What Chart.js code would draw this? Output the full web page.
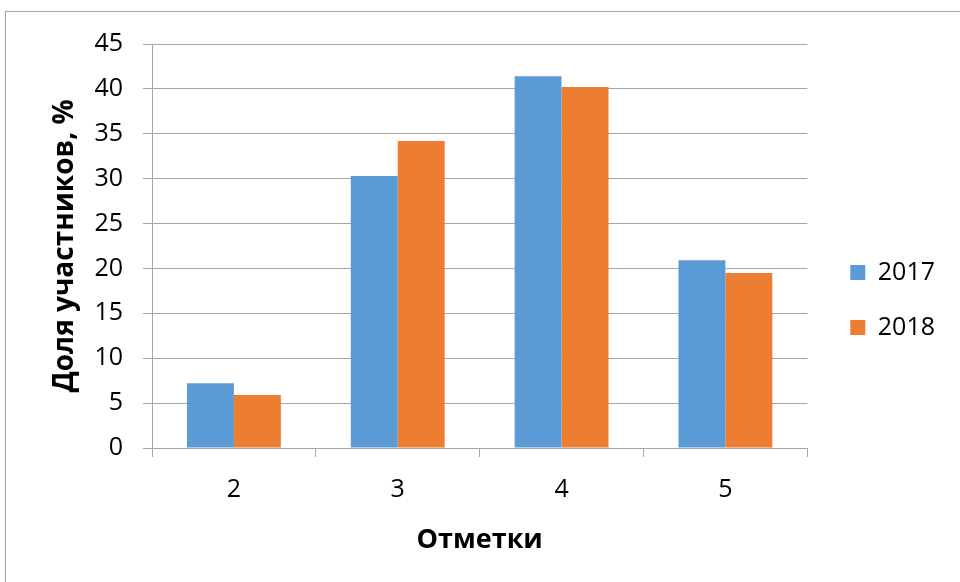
<!DOCTYPE html>
<html>
<head>
<meta charset="utf-8">
<script src="https://cdn.jsdelivr.net/npm/chart.js@4/dist/chart.umd.min.js"></script>
<style>
  html, body { margin: 0; padding: 0; background: #fff; }
  #wrap { position: relative; width: 960px; height: 582px; }
  #frame { position: absolute; left: 5px; top: 11px; right: -2px; bottom: -2px;
           border-left: 1px solid #a6a6a6; border-top: 1px solid #a6a6a6; pointer-events: none; }
</style>
</head>
<body>
<div id="wrap">
  <canvas id="chart" width="960" height="582"></canvas>
  <div id="frame"></div>
</div>
<script>
const grades = ["2", "3", "4", "5"];
const share2017 = [7.2, 30.3, 41.4, 20.9];
const share2018 = [5.9, 34.2, 40.2, 19.5];
const yTicks = [0, 5, 10, 15, 20, 25, 30, 35, 40, 45];

const gridGray = "#a6a6a6";
const fontFamily = "'Open Sans', 'Noto Sans', sans-serif";

// nudge the legend into place after layout (Excel leaves a wider gap)
const legendNudge = {
  id: "legendNudge",
  afterLayout(chart) {
    const lg = chart.legend;
    if (!lg) return;
    lg.left += 13; lg.right += 13;
    lg.top -= 13; lg.bottom -= 13;
  }
};

const ctx = document.getElementById("chart").getContext("2d");

new Chart(ctx, {
  type: "bar",
  data: {
    labels: grades,
    datasets: [{
      label: "2017",
      data: share2017,
      backgroundColor: "#5b9bd5",
      borderWidth: 0
    }, {
      label: "2018",
      data: share2018,
      backgroundColor: "#ed7d31",
      borderWidth: 0
    }]
  },
  plugins: [legendNudge],
  options: {
    responsive: false,
    animation: false,
    categoryPercentage: 0.573,
    barPercentage: 1,
    layout: {
      padding: { top: 44, left: 0, right: 28, bottom: 0 }
    },
    plugins: {
      legend: {
        display: true,
        position: "right",
        labels: {
          color: "#000",
          font: { family: fontFamily, size: 25 },
          boxWidth: 15,
          boxHeight: 15,
          padding: 30
        }
      },
      tooltip: { enabled: false }
    },
    scales: {
      x: {
        grid: {
          offset: true,
          drawOnChartArea: false,
          drawTicks: true,
          tickLength: 9,
          color: gridGray
        },
        border: { color: gridGray },
        ticks: {
          color: "#000",
          font: { family: fontFamily, size: 25 },
          padding: 18
        },
        title: {
          display: true,
          text: "Отметки",
          color: "#000",
          font: { family: fontFamily, size: 27, weight: "bold" },
          padding: { top: 0, bottom: 25 }
        },
        afterFit: function (scale) { scale.height = 134; }
      },
      y: {
        min: 0,
        max: 45,
        afterBuildTicks: function (scale) {
          scale.ticks = yTicks.map(v => ({ value: v }));
        },
        grid: {
          color: gridGray,
          drawTicks: true,
          tickLength: 9
        },
        border: { color: gridGray },
        ticks: {
          color: "#000",
          font: { family: fontFamily, size: 25 },
          padding: 20
        },
        title: {
          display: true,
          text: "Доля участников, %",
          color: "#000",
          font: { family: fontFamily, size: 28, weight: "bold" },
          padding: { top: 48, bottom: 0 }
        },
        afterFit: function (scale) { scale.width = 152; }
      }
    }
  }
});
</script>
</body>
</html>
